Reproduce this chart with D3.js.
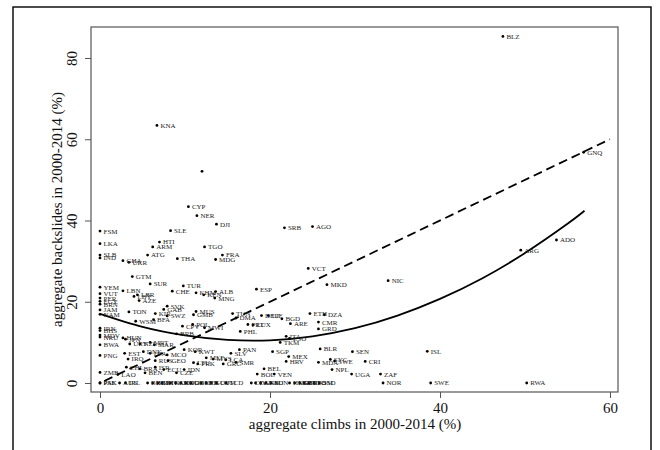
<!DOCTYPE html>
<html><head><meta charset="utf-8">
<script src="https://cdn.jsdelivr.net/npm/d3@7"></script>
<style>body{margin:0;background:#fff}svg{display:block}</style>
</head><body><svg id="c" width="660" height="450"></svg>
<script>
const codes = ["BLZ","KNA","","CYP","NER","DJI","SRB","AGO","FSM","SLE","LKA","HTI","ARM","TGO","ATG","FRA","SLB","IND","THA","MDG","GHA","UKR","VCT","GTM","NIC","SUR","MKD","TUR","YEM","ESP","LBN","CHE","VUT","KHM","ALB","LBR","KEN","MNG","AZE","LBY","PER","EGY","BRN","SVK","GAB","KIR","TON","JAM","NAM","SWZ","BFA","WSM","MUS","GMB","CPV","POL","MWI","TUN","DMA","DEU","LIE","BGD","ARE","PHL","PRT","LUX","ETH","DZA","CMR","GRD","ITA","LSO","TKM","BRB","IRN","BHS","MDV","NRU","BWA","PNG","ZMB","PAK","PSE","HUN","JPN","URY","NZL","MRT","MAR","EST","IRQ","DNK","LVA","MCO","RUS","GEO","LAO","CHL","BRA","BEN","ISR","ECU","CZE","IDN","KOR","KWT","LTU","PRK","MLT","MYS","SLV","PAN","GRC","LCA","SMR","SGP","MEX","HRV","BEL","BOL","VEN","BLR","SEN","ISL","SYC","SWE","MDA","CRI","NPL","UGA","ZAF","NOR","SWE","RWA","ADO","ARG","GNQ","AUS","IRL","BHR","BGR","BIH","BTN","CAN","CHN","COG","CUB","DOM","ERI","FJI","GUY","COM","TCD","CIV","CAF","GNB","SAU","SDN","HKG","MRT","GBR","BDI","TTO","SOM","SSD"];
const climbs = [47.4,6.7,12.0,10.4,11.4,13.7,21.7,25.0,0,8.3,0,7.0,6.2,12.3,5.6,14.4,0,0,9.1,13.6,2.7,3.4,24.5,3.8,33.9,5.9,26.7,9.8,0,18.4,2.7,8.5,0,11.3,13.6,4.4,12.2,13.5,4.6,4.0,0,0,0,7.9,7.5,6.5,3.4,0,0,7.9,6.3,4.2,11.3,11.0,9.7,10.9,12.3,15.6,16.0,19.0,19.8,21.4,22.4,16.5,17.4,18.0,24.7,26.4,25.7,25.7,21.9,22.3,21.2,9.0,0,0,0,0,0,0,0,0,0,2.7,3.0,3.5,4.7,5.9,6.4,2.9,3.3,5.1,5.9,7.9,6.5,8.0,2.1,3.1,4.7,5.3,6.5,7.5,9.0,9.9,9.9,11.2,11.0,11.5,12.5,13.3,15.4,16.4,14.5,14.8,16.0,20.3,22.2,21.9,19.3,18.5,20.5,25.9,29.7,38.5,27.1,27.6,25.7,31.2,27.3,29.6,33.0,33.3,38.9,50.2,53.7,49.5,56.9,2.3,3.0,5.6,6.2,6.8,7.3,8.3,8.9,9.5,10.1,10.7,11.9,12.5,13.1,13.7,14.8,17.8,18.3,18.9,19.5,20.1,22.3,22.9,23.5,24.0,24.6,25.2,25.8];
const backslides = [85.3,63.4,52.1,43.4,41.2,39.1,38.2,38.5,37.4,37.5,34.3,34.7,33.5,33.5,31.5,31.5,31.5,30.8,30.6,30.4,30.1,29.7,28.2,26.2,25.2,24.4,24.2,23.9,23.6,23.1,22.7,22.6,22.0,22.2,22.5,21.7,21.7,20.9,20.3,21.3,20.9,20.1,19.4,18.9,18.1,17.1,17.5,18.0,16.9,16.5,15.6,15.2,17.6,16.8,14.0,14.4,13.6,17.1,16.0,16.6,16.6,15.8,14.6,12.7,14.4,14.3,17.1,16.8,15.0,13.3,11.5,11.0,10.0,12.1,13.5,12.9,11.8,11.3,9.4,6.8,2.6,0,0,11.1,10.8,9.6,9.6,10.0,9.4,7.3,5.9,7.7,7.3,6.9,5.5,5.5,2.1,3.9,3.5,2.5,3.9,3.3,2.5,3.3,8.2,7.7,5.0,4.7,6.2,5.9,7.3,8.2,4.7,5.7,5.1,7.7,6.5,5.3,3.5,2.2,2.2,8.4,7.7,7.8,5.8,5.4,5.1,5.3,3.3,2.2,2.2,0,0,0,35.2,32.7,56.8,0,0,0,0,0,0,0,0,0,0,0,0,0,0,0,0,0,0,0,0,0,0,0,0,0,0,0,0];
const fitX = [0,5,10,15,20,25,30,35,40,45,50,55,57];
const fitY = [17.0,13.8,11.7,10.6,10.5,11.5,13.5,16.6,20.7,25.8,32.0,39.2,42.4];
const diagX = [0.5,60];
const diagY = [0.5,60];
const xTicks = [0,20,40,60];
const yTicks = [0,20,40,60,80];
const xTitle = "aggregate climbs in 2000-2014 (%)";
const yTitle = "aggregate backslides in 2000-2014 (%)";

const svg = d3.select("#c");
const font = "'Liberation Serif', 'DejaVu Serif', serif";
const x = d3.scaleLinear().domain([0,60]).range([100,610]);
const y = d3.scaleLinear().domain([0,80]).range([383,58]);
const L=91,R=618,T=27,B=392;

svg.append("rect").attr("x",13).attr("y",7).attr("width",638).attr("height",460)
  .attr("fill","none").attr("stroke","#111").attr("stroke-width",1.5);
svg.append("rect").attr("x",L).attr("y",T).attr("width",R-L).attr("height",B-T)
  .attr("fill","none").attr("stroke","#555").attr("stroke-width",1.2);

const xa = svg.append("g").attr("transform",`translate(0,${B})`)
  .call(d3.axisBottom(x).tickValues(xTicks).tickSize(6).tickPadding(4).tickFormat(d3.format("d")));
xa.select(".domain").remove();
xa.selectAll("line").attr("stroke","#555");
xa.selectAll("text").attr("font-family",font).attr("font-size",15).attr("fill","#111");

const ya = svg.append("g").attr("transform",`translate(${L},0)`)
  .call(d3.axisLeft(y).tickValues(yTicks).tickSize(6).tickFormat(d3.format("d")));
ya.select(".domain").remove();
ya.selectAll("line").attr("stroke","#555");
ya.selectAll("text").attr("font-family",font).attr("font-size",15).attr("fill","#111")
  .attr("x",null).attr("dy",null).attr("text-anchor","middle")
  .attr("transform",d=>`translate(-14,0) rotate(-90)`).attr("y",0);

svg.append("text").attr("x",(x(0)+x(60))/2).attr("y",429).attr("text-anchor","middle")
  .attr("font-family",font).attr("font-size",15).attr("fill","#111").text(xTitle);
svg.append("text").attr("transform",`translate(62,${(T+B)/2}) rotate(-90)`).attr("text-anchor","middle")
  .attr("font-family",font).attr("font-size",15).attr("fill","#111").text(yTitle);

const line = d3.line().x(d=>x(d[0])).y(d=>y(d[1]));
svg.append("path").attr("d",line.curve(d3.curveNatural)(fitX.map((v,i)=>[v,fitY[i]])))
  .attr("fill","none").attr("stroke","#000").attr("stroke-width",1.8);
svg.append("path").attr("d",d3.line().x(d=>x(d[0])).y(d=>y(d[1]))(diagX.map((v,i)=>[v,diagY[i]])))
  .attr("fill","none").attr("stroke","#000").attr("stroke-width",1.8).attr("stroke-dasharray","9,5");

const pts = codes.map((c,i)=>({c,x:climbs[i],y:backslides[i]}));
const g = svg.append("g");
g.selectAll("circle").data(pts).join("circle")
  .attr("cx",d=>x(d.x)).attr("cy",d=>y(d.y)).attr("r",1.4).attr("fill","#000");
g.selectAll("text").data(pts).join("text")
  .attr("x",d=>x(d.x)+3.5).attr("y",d=>y(d.y)).attr("dy","0.35em")
  .attr("font-family",font).attr("font-size",7).attr("fill","#222").text(d=>d.c);
</script></body></html>
